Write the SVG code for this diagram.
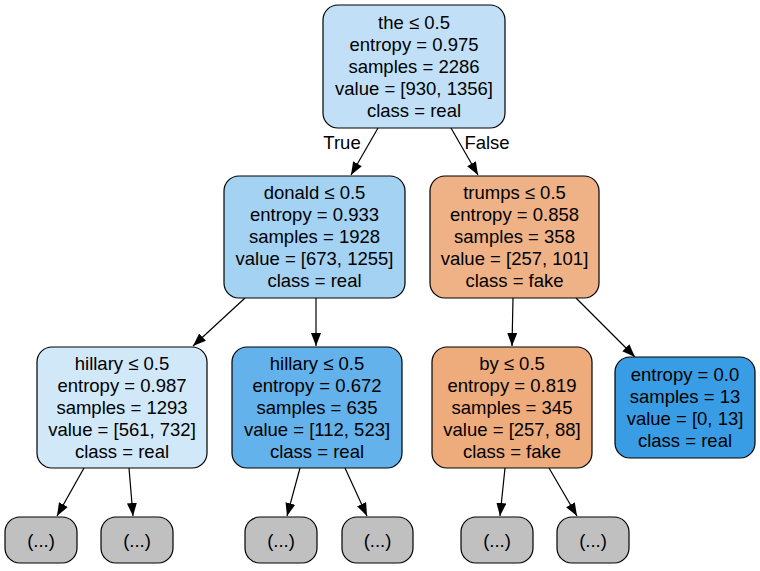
<svg xmlns="http://www.w3.org/2000/svg" width="760" height="571" viewBox="0 0 760 571">
<style>
.n{stroke:#000;stroke-width:1.2}
text{font-family:"Liberation Sans",Arial,Helvetica,sans-serif;font-size:18.5px;fill:#000;text-anchor:middle}
.e{stroke:#000;stroke-width:1.2;fill:none;marker-end:url(#ah)}
</style>
<defs>
<marker id="ah" markerUnits="userSpaceOnUse" markerWidth="14" markerHeight="11" refX="13" refY="5" orient="auto">
<path d="M0,0 L13,5 L0,10 z" fill="#000"/>
</marker>
</defs>
<rect width="760" height="571" fill="#fff"/>
<g id="edges">
<line class="e" x1="378" y1="128" x2="351" y2="175"/>
<line class="e" x1="451" y1="128" x2="478" y2="175"/>
<line class="e" x1="245" y1="298" x2="193" y2="346"/>
<line class="e" x1="316" y1="298" x2="316" y2="346"/>
<line class="e" x1="513" y1="298" x2="512" y2="346"/>
<line class="e" x1="576" y1="298" x2="635" y2="357"/>
<line class="e" x1="84" y1="468" x2="57" y2="516"/>
<line class="e" x1="129" y1="468" x2="133" y2="516"/>
<line class="e" x1="300" y1="468" x2="287" y2="516"/>
<line class="e" x1="345" y1="468" x2="367" y2="516"/>
<line class="e" x1="505" y1="468" x2="500" y2="516"/>
<line class="e" x1="549" y1="468" x2="577" y2="516"/>
<text x="342" y="149">True</text>
<text x="487" y="149">False</text>
</g>
<g id="root">
<rect class="n" x="323" y="5" width="182" height="123" rx="15" fill="#c1e0f7"/>
<text x="414" y="29">the ≤ 0.5</text>
<text x="414" y="51">entropy = 0.975</text>
<text x="414" y="73">samples = 2286</text>
<text x="414" y="95">value = [930, 1356]</text>
<text x="414" y="117">class = real</text>
</g>
<g id="donald">
<rect class="n" x="224" y="176" width="181" height="122" rx="15" fill="#a3d2f3"/>
<text x="314.5" y="199">donald ≤ 0.5</text>
<text x="314.5" y="221">entropy = 0.933</text>
<text x="314.5" y="243">samples = 1928</text>
<text x="314.5" y="265">value = [673, 1255]</text>
<text x="314.5" y="287">class = real</text>
</g>
<g id="trumps">
<rect class="n" x="430" y="176" width="169" height="122" rx="15" fill="#efb287"/>
<text x="514.5" y="199">trumps ≤ 0.5</text>
<text x="514.5" y="221">entropy = 0.858</text>
<text x="514.5" y="243">samples = 358</text>
<text x="514.5" y="265">value = [257, 101]</text>
<text x="514.5" y="287">class = fake</text>
</g>
<g id="hillary1">
<rect class="n" x="37" y="347" width="170" height="121" rx="15" fill="#d1e8f9"/>
<text x="122" y="370">hillary ≤ 0.5</text>
<text x="122" y="392">entropy = 0.987</text>
<text x="122" y="414">samples = 1293</text>
<text x="122" y="436">value = [561, 732]</text>
<text x="122" y="458">class = real</text>
</g>
<g id="hillary2">
<rect class="n" x="232" y="347" width="170" height="121" rx="15" fill="#63b2eb"/>
<text x="317" y="370">hillary ≤ 0.5</text>
<text x="317" y="392">entropy = 0.672</text>
<text x="317" y="414">samples = 635</text>
<text x="317" y="436">value = [112, 523]</text>
<text x="317" y="458">class = real</text>
</g>
<g id="by">
<rect class="n" x="432" y="347" width="160" height="121" rx="15" fill="#eeac7d"/>
<text x="512" y="370">by ≤ 0.5</text>
<text x="512" y="392">entropy = 0.819</text>
<text x="512" y="414">samples = 345</text>
<text x="512" y="436">value = [257, 88]</text>
<text x="512" y="458">class = fake</text>
</g>
<g id="leaf">
<rect class="n" x="615" y="357" width="140" height="101" rx="15" fill="#399de5"/>
<text x="685" y="381">entropy = 0.0</text>
<text x="685" y="403">samples = 13</text>
<text x="685" y="425">value = [0, 13]</text>
<text x="685" y="447">class = real</text>
</g>
<g id="e1"><rect class="n" x="5" y="517" width="72" height="46" rx="15" fill="#c0c0c0"/><text x="41" y="547">(...)</text></g>
<g id="e2"><rect class="n" x="101" y="517" width="72" height="46" rx="15" fill="#c0c0c0"/><text x="137" y="547">(...)</text></g>
<g id="e3"><rect class="n" x="245" y="517" width="72" height="46" rx="15" fill="#c0c0c0"/><text x="281" y="547">(...)</text></g>
<g id="e4"><rect class="n" x="342" y="517" width="71" height="46" rx="15" fill="#c0c0c0"/><text x="377.5" y="547">(...)</text></g>
<g id="e5"><rect class="n" x="461" y="517" width="72" height="46" rx="15" fill="#c0c0c0"/><text x="497" y="547">(...)</text></g>
<g id="e6"><rect class="n" x="557" y="517" width="72" height="46" rx="15" fill="#c0c0c0"/><text x="593" y="547">(...)</text></g>
</svg>
